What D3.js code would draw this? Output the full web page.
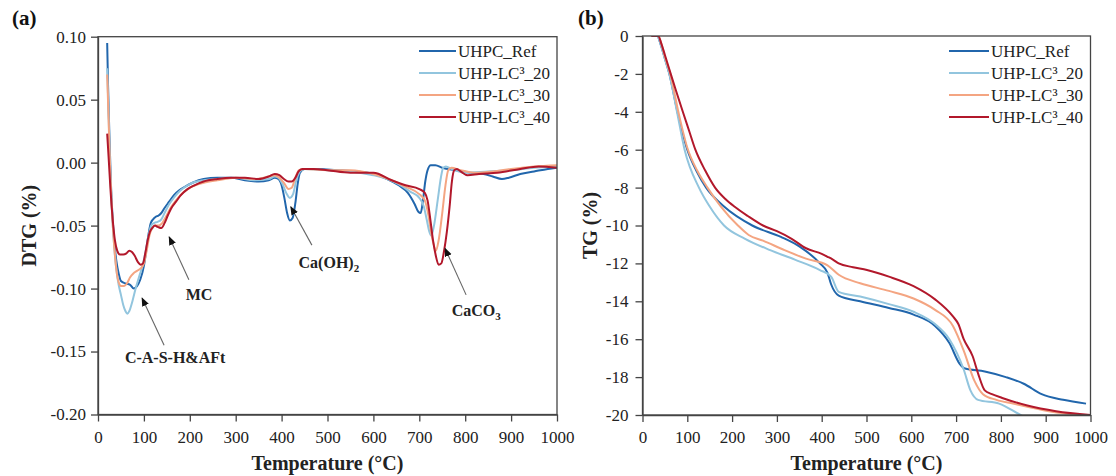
<!DOCTYPE html>
<html><head><meta charset="utf-8">
<script src="https://cdn.jsdelivr.net/npm/d3@7"></script>
<style>
body{margin:0;background:#fff}
text{font-family:"Liberation Serif","Times New Roman",serif}
</style></head><body>
<svg id="chart" width="1116" height="476"></svg>
<script>
var seriesNames = ["UHPC_Ref", "UHP-LC³_20", "UHP-LC³_30", "UHP-LC³_40"];
var seriesColors = ["#2166ac", "#92c5de", "#f4a582", "#b2182b"];
var tempTicks = [0, 100, 200, 300, 400, 500, 600, 700, 800, 900, 1000];
var dtgTicks = [0.10, 0.05, 0.00, -0.05, -0.10, -0.15, -0.20];
var tgTicks = [0, -2, -4, -6, -8, -10, -12, -14, -16, -18, -20];

// DTG curves, [temperature, DTG %]
var dtgRef = [[20,0.095],[22,0.06],[25,0.02],[28,-0.015],[32,-0.045],[36,-0.065],[40,-0.078],[45,-0.088],[50,-0.094],[60,-0.096],[70,-0.097],[78,-0.100],[85,-0.098],[92,-0.093],[100,-0.082],[105,-0.070],[110,-0.057],[115,-0.048],[120,-0.045],[126,-0.043],[132,-0.042],[138,-0.040],[145,-0.036],[155,-0.031],[165,-0.026],[177,-0.022],[190,-0.019],[206,-0.016],[230,-0.013],[260,-0.012],[290,-0.012],[320,-0.014],[350,-0.015],[372,-0.014],[385,-0.012],[393,-0.013],[400,-0.018],[406,-0.028],[412,-0.040],[418,-0.046],[424,-0.044],[430,-0.032],[435,-0.017],[440,-0.008],[450,-0.005],[480,-0.005],[520,-0.006],[560,-0.007],[600,-0.009],[630,-0.013],[655,-0.018],[675,-0.024],[690,-0.033],[698,-0.039],[703,-0.040],[708,-0.030],[713,-0.015],[718,-0.006],[725,-0.002],[735,-0.002],[750,-0.004],[780,-0.006],[810,-0.008],[840,-0.009],[860,-0.011],[880,-0.013],[895,-0.012],[920,-0.009],[950,-0.007],[980,-0.005],[1000,-0.004]];
var dtg20 = [[20,0.075],[23,0.04],[26,0.0],[30,-0.035],[35,-0.065],[40,-0.085],[45,-0.097],[50,-0.105],[55,-0.113],[60,-0.118],[64,-0.120],[68,-0.118],[75,-0.110],[82,-0.100],[90,-0.090],[97,-0.082],[104,-0.070],[110,-0.058],[116,-0.050],[122,-0.048],[130,-0.047],[138,-0.045],[145,-0.040],[155,-0.033],[165,-0.028],[180,-0.022],[200,-0.017],[230,-0.014],[260,-0.013],[300,-0.012],[340,-0.014],[372,-0.013],[385,-0.011],[393,-0.012],[402,-0.017],[410,-0.024],[418,-0.028],[425,-0.025],[432,-0.014],[440,-0.007],[450,-0.005],[500,-0.006],[550,-0.007],[600,-0.010],[630,-0.013],[655,-0.017],[680,-0.023],[700,-0.028],[710,-0.035],[716,-0.045],[722,-0.055],[726,-0.058],[732,-0.050],[740,-0.030],[747,-0.012],[752,-0.004],[758,-0.003],[770,-0.005],[800,-0.008],[850,-0.007],[900,-0.006],[950,-0.004],[1000,-0.003]];
var dtg30 = [[20,0.07],[23,0.035],[26,0.0],[30,-0.035],[35,-0.065],[40,-0.085],[45,-0.095],[50,-0.098],[57,-0.098],[63,-0.096],[70,-0.091],[77,-0.088],[85,-0.086],[93,-0.084],[100,-0.080],[106,-0.070],[112,-0.058],[118,-0.052],[125,-0.050],[132,-0.050],[140,-0.048],[148,-0.043],[158,-0.036],[170,-0.030],[185,-0.024],[200,-0.020],[230,-0.016],[260,-0.014],[300,-0.012],[340,-0.013],[372,-0.011],[385,-0.010],[395,-0.012],[405,-0.016],[415,-0.021],[422,-0.020],[430,-0.012],[438,-0.006],[450,-0.005],[500,-0.006],[550,-0.006],[600,-0.009],[640,-0.014],[670,-0.019],[700,-0.025],[712,-0.030],[720,-0.042],[726,-0.056],[732,-0.066],[736,-0.070],[742,-0.062],[750,-0.040],[757,-0.018],[763,-0.006],[770,-0.004],[790,-0.006],[820,-0.008],[860,-0.007],[900,-0.005],[950,-0.003],[1000,-0.002]];
var dtg40 = [[20,0.023],[23,0.005],[27,-0.02],[32,-0.045],[37,-0.062],[42,-0.070],[48,-0.073],[55,-0.073],[62,-0.072],[68,-0.070],[74,-0.071],[80,-0.074],[87,-0.079],[93,-0.081],[98,-0.080],[103,-0.072],[108,-0.062],[113,-0.055],[118,-0.052],[124,-0.050],[130,-0.051],[138,-0.052],[145,-0.048],[152,-0.042],[160,-0.036],[170,-0.031],[180,-0.026],[195,-0.021],[210,-0.018],[230,-0.015],[260,-0.013],[290,-0.012],[320,-0.012],[350,-0.013],[372,-0.011],[385,-0.009],[395,-0.010],[405,-0.013],[415,-0.015],[422,-0.015],[430,-0.012],[437,-0.007],[445,-0.005],[470,-0.005],[500,-0.006],[550,-0.008],[600,-0.008],[640,-0.014],[670,-0.018],[700,-0.021],[712,-0.024],[718,-0.030],[724,-0.045],[730,-0.062],[736,-0.074],[742,-0.081],[748,-0.080],[754,-0.070],[760,-0.055],[766,-0.035],[771,-0.015],[776,-0.006],[782,-0.005],[790,-0.007],[805,-0.010],[830,-0.009],[870,-0.008],[920,-0.005],[960,-0.003],[1000,-0.004]];

// TG curves, [temperature, TG %]
var tgRef = [[20,0],[33,0],[40,-0.4],[50,-1.2],[60,-2.0],[78,-4.0],[100,-6.0],[120,-7.1],[142,-8.0],[182,-9.0],[245,-10.0],[309,-10.6],[350,-11.1],[396,-12.0],[413,-12.5],[421,-13.1],[438,-13.7],[486,-14.0],[550,-14.35],[605,-14.7],[653,-15.3],[685,-16.2],[708,-17.3],[720,-17.55],[764,-17.7],[811,-18.0],[851,-18.35],[891,-18.9],[939,-19.2],[990,-19.4]];
var tg20 = [[20,0],[33,0],[40,-0.4],[50,-1.2],[60,-2.0],[77,-4.0],[94,-6.0],[126,-8.0],[150,-9.0],[182,-10.0],[229,-10.7],[285,-11.3],[340,-11.8],[396,-12.35],[421,-12.7],[438,-13.5],[486,-13.75],[550,-14.15],[605,-14.55],[653,-15.2],[685,-16.0],[717,-17.6],[732,-18.7],[749,-19.2],[796,-19.4],[844,-20.0],[870,-20.3]];
var tg30 = [[20,0],[35,0],[42,-0.4],[50,-1.1],[62,-2.0],[80,-4.0],[100,-5.9],[122,-7.1],[145,-8.0],[175,-9.0],[213,-10.0],[237,-10.5],[269,-10.8],[317,-11.3],[365,-11.75],[413,-12.1],[438,-12.6],[486,-13.05],[550,-13.45],[605,-13.85],[653,-14.45],[693,-15.3],[717,-16.6],[741,-18.2],[760,-18.9],[790,-19.2],[827,-19.4],[907,-19.8],[1000,-20.05]];
var tg40 = [[20,0],[35,0],[42,-0.4],[50,-1.0],[63,-2.0],[75,-2.9],[90,-4.0],[104,-5.0],[118,-6.0],[140,-7.1],[162,-8.0],[185,-8.6],[205,-9.0],[235,-9.5],[269,-10.0],[300,-10.3],[333,-10.7],[365,-11.2],[400,-11.5],[413,-11.65],[425,-11.8],[438,-12.0],[470,-12.2],[501,-12.35],[550,-12.7],[605,-13.2],[653,-13.9],[693,-14.8],[705,-15.2],[717,-16.0],[737,-16.9],[749,-17.8],[764,-18.7],[780,-18.9],[803,-19.1],[859,-19.5],[923,-19.8],[1000,-20.0]];

// peak labels for the DTG panel (label point, arrow start, arrow tip in data units)
var dtgNotes = [
  {label: "C-A-S-H&AFt", sub: "", at: [168, -0.155], from: [144, -0.145], to: [96, -0.1075]},
  {label: "MC", sub: "", at: [220, -0.105], from: [198, -0.093], to: [155, -0.059]},
  {label: "Ca(OH)", sub: "2", at: [503, -0.079], from: [466, -0.0655], to: [420, -0.035]},
  {label: "CaCO", sub: "3", at: [824, -0.117], from: [802, -0.105], to: [756, -0.068]}
];

var svg = d3.select("#chart");
svg.append("defs").append("marker")
  .attr("id", "head").attr("viewBox", "0 0 10 10")
  .attr("refX", 9).attr("refY", 5)
  .attr("markerWidth", 9).attr("markerHeight", 9)
  .attr("markerUnits", "userSpaceOnUse")
  .attr("orient", "auto")
  .append("path").attr("d", "M0,1L10,5L0,9Z").attr("fill", "#111");

function drawPanel(cfg) {
  var x = d3.scaleLinear().domain([0, 1000]).range([cfg.left, cfg.right]);
  var y = d3.scaleLinear().domain(cfg.ydom).range([cfg.top, cfg.bottom]);
  var g = svg.append("g");

  g.append("clipPath").attr("id", cfg.id + "clip").append("rect")
    .attr("x", cfg.left).attr("y", cfg.top)
    .attr("width", cfg.right - cfg.left).attr("height", cfg.bottom - cfg.top);

  var line = d3.line().x(function(d) { return x(d[0]); }).y(function(d) { return y(d[1]); })
    .curve(d3.curveMonotoneX);

  g.append("g").attr("clip-path", "url(#" + cfg.id + "clip)")
    .selectAll("path").data(cfg.series).enter().append("path")
    .attr("d", function(d) { return line(d); })
    .attr("fill", "none")
    .attr("stroke", function(d, i) { return seriesColors[i]; })
    .attr("stroke-width", 2)
    .attr("stroke-linejoin", "round");

  // frame
  g.append("rect").attr("x", cfg.left).attr("y", cfg.top)
    .attr("width", cfg.right - cfg.left).attr("height", cfg.bottom - cfg.top)
    .attr("fill", "none").attr("stroke", "#444").attr("stroke-width", 1.3);

  var xa = g.append("g").attr("transform", "translate(0," + cfg.bottom + ")")
    .call(d3.axisBottom(x).tickValues(tempTicks).tickSize(7).tickSizeOuter(0).tickPadding(9).tickFormat(d3.format("d")));
  var ya = g.append("g").attr("transform", "translate(" + cfg.left + ",0)")
    .call(d3.axisLeft(y).tickValues(cfg.yticks).tickSize(7).tickSizeOuter(0).tickPadding(cfg.ypad)
      .tickFormat(function(d) { return cfg.fmt(d).replace("−", "-"); }));
  [xa, ya].forEach(function(a) {
    a.select(".domain").attr("stroke", "#444").attr("stroke-width", 1.3);
    a.selectAll(".tick line").attr("stroke", "#444").attr("stroke-width", 1.3);
    a.selectAll(".tick text").attr("font-size", 17).attr("fill", "#222")
      .attr("font-family", "'Liberation Serif','Times New Roman',serif");
  });

  g.append("text").attr("x", (cfg.left + cfg.right) / 2).attr("y", 470)
    .attr("text-anchor", "middle").attr("font-size", 20).attr("font-weight", "bold")
    .attr("fill", "#222").text("Temperature (°C)");
  g.append("text").attr("transform", "translate(" + cfg.ytitleX + "," + (cfg.top + cfg.bottom) / 2 + ")rotate(-90)")
    .attr("text-anchor", "middle").attr("font-size", 20).attr("font-weight", "bold")
    .attr("fill", "#222").text(cfg.ytitle);
  g.append("text").attr("x", cfg.tagX).attr("y", 25).attr("font-size", 21)
    .attr("font-weight", "bold").attr("fill", "#111").text(cfg.tag);

  // legend
  var lg = g.append("g").selectAll("g").data(seriesNames).enter().append("g")
    .attr("transform", function(d, i) { return "translate(" + cfg.legX + "," + (51 + i * 22) + ")"; });
  lg.append("line").attr("x1", 0).attr("x2", cfg.legLen).attr("y1", 0).attr("y2", 0)
    .attr("stroke", function(d, i) { return seriesColors[i]; }).attr("stroke-width", 2);
  lg.append("text").attr("x", cfg.legLen + 2).attr("y", 0).attr("dy", "0.35em")
    .attr("font-size", 17).attr("fill", "#222").text(function(d) { return d; });

  return {x: x, y: y, g: g};
}

var left = drawPanel({id: "a", left: 98, right: 557, top: 36.7, bottom: 414.5,
  ydom: [0.10, -0.20], yticks: dtgTicks, ypad: 5, fmt: d3.format(".2f"),
  series: [dtgRef, dtg20, dtg30, dtg40], ytitle: "DTG (%)", ytitleX: 36,
  tag: "(a)", tagX: 12, legX: 419, legLen: 37});

var right = drawPanel({id: "b", left: 642.5, right: 1090.5, top: 36, bottom: 415,
  ydom: [0, -20], yticks: tgTicks, ypad: 7, fmt: d3.format("d"),
  series: [tgRef, tg20, tg30, tg40], ytitle: "TG (%)", ytitleX: 597,
  tag: "(b)", tagX: 578, legX: 949, legLen: 40});

// annotations on DTG
var notes = left.g.append("g").selectAll("g").data(dtgNotes).enter().append("g");
notes.append("line")
  .attr("x1", function(d) { return left.x(d.from[0]); })
  .attr("y1", function(d) { return left.y(d.from[1]); })
  .attr("x2", function(d) { return left.x(d.to[0]); })
  .attr("y2", function(d) { return left.y(d.to[1]); })
  .attr("stroke", "#666").attr("stroke-width", 1.1)
  .attr("marker-end", "url(#head)");
var nt = notes.append("text")
  .attr("x", function(d) { return left.x(d.at[0]); })
  .attr("y", function(d) { return left.y(d.at[1]); })
  .attr("dy", "0.35em").attr("text-anchor", "middle")
  .attr("font-size", 16).attr("font-weight", "bold").attr("fill", "#222");
nt.append("tspan").text(function(d) { return d.label; });
nt.append("tspan").attr("dy", 4).attr("font-size", 11).text(function(d) { return d.sub; });
</script>
</body></html>
